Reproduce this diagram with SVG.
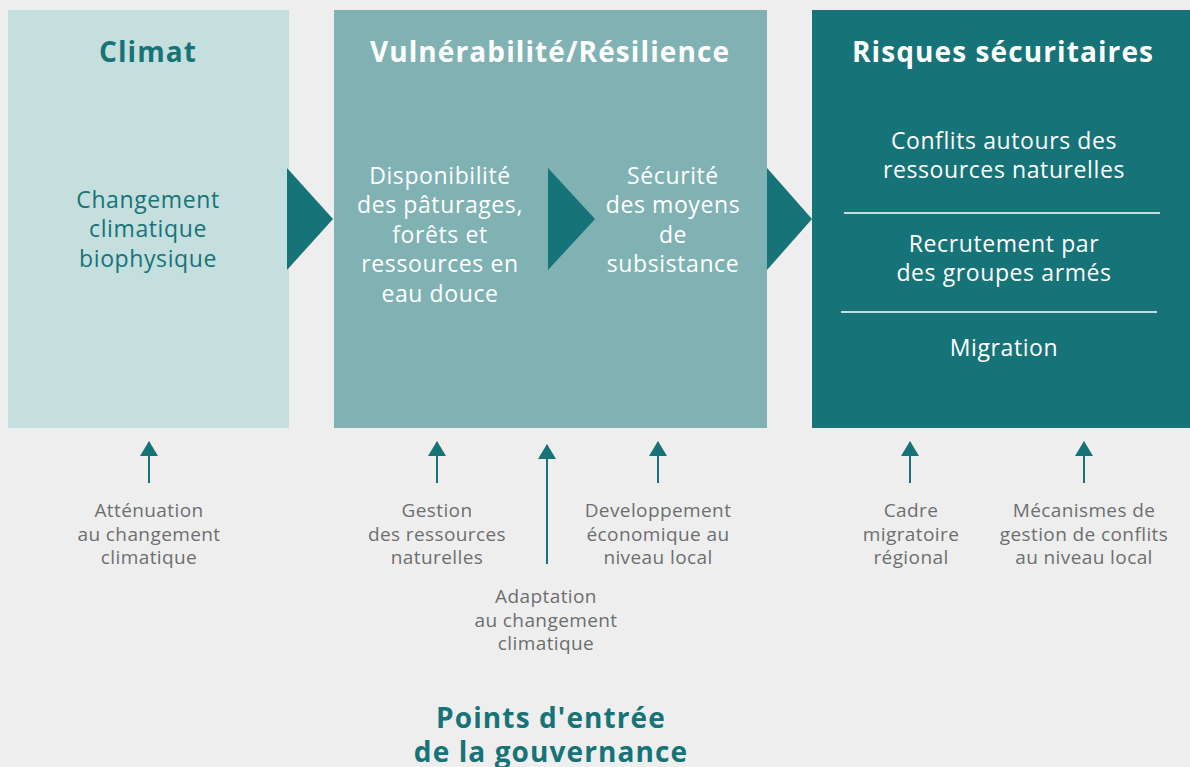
<svg xmlns="http://www.w3.org/2000/svg" width="1190" height="767" viewBox="0 0 1190 767">
<style>
.bg{fill:#eeeeee}
.t{font-family:"Open Sans","Noto Sans",sans-serif;font-weight:bold;font-size:28px;letter-spacing:1.1px;text-anchor:middle}
.b{font-family:"Open Sans","Noto Sans",sans-serif;font-size:23px;letter-spacing:0.6px;text-anchor:middle}
.s{font-family:"Open Sans","Noto Sans",sans-serif;font-size:19px;letter-spacing:0.4px;text-anchor:middle;fill:#6d6e70}
.teal{fill:#167377}
.w{fill:#ffffff}
.chev{fill:#167377}
.conn line{stroke:#167377;stroke-width:2}
.sep{stroke:#ffffff;stroke-width:1.5}
</style>
<defs>
<marker id="ah" viewBox="0 0 15 18" refX="14" refY="9" markerWidth="15" markerHeight="18" markerUnits="userSpaceOnUse" orient="auto">
<path d="M0,0 L15,9 L0,18 Z" fill="#167377"/>
</marker>
</defs>
<rect class="bg" x="0" y="0" width="1190" height="767"/>
<g id="climat">
<rect x="8" y="10" width="281" height="418" fill="#c5dfdf"/>
<text class="t teal" x="148" y="62">Climat</text>
<text class="b teal" x="148" y="208">Changement</text>
<text class="b teal" x="148" y="237">climatique</text>
<text class="b teal" x="148" y="267">biophysique</text>
</g>
<g id="vulnerabilite">
<rect x="334" y="10" width="433" height="418" fill="#80b2b4"/>
<text class="t w" x="550" y="62">Vulnérabilité/Résilience</text>
<text class="b w" x="440" y="184">Disponibilité</text>
<text class="b w" x="440" y="213">des pâturages,</text>
<text class="b w" x="440" y="243">forêts et</text>
<text class="b w" x="440" y="272">ressources en</text>
<text class="b w" x="440" y="302">eau douce</text>
<text class="b w" x="673" y="184">Sécurité</text>
<text class="b w" x="673" y="213">des moyens</text>
<text class="b w" x="673" y="243">de</text>
<text class="b w" x="673" y="272">subsistance</text>
</g>
<g id="risques">
<rect x="812" y="10" width="378" height="418" fill="#167377"/>
<text class="t w" x="1003" y="62">Risques sécuritaires</text>
<text class="b w" x="1004" y="149">Conflits autours des</text>
<text class="b w" x="1004" y="178">ressources naturelles</text>
<line class="sep" x1="844" y1="213" x2="1160" y2="213"/>
<text class="b w" x="1004" y="252">Recrutement par</text>
<text class="b w" x="1004" y="281">des groupes armés</text>
<line class="sep" x1="841" y1="312" x2="1157" y2="312"/>
<text class="b w" x="1004" y="356">Migration</text>
</g>
<g id="chevrons">
<polygon class="chev" points="287,168 333,219 287,270"/>
<polygon class="chev" points="548,168 595,219 548,270"/>
<polygon class="chev" points="767,168 812,219 767,270"/>
</g>
<g id="connectors" class="conn">
<line x1="149" y1="483" x2="149" y2="442" marker-end="url(#ah)"/>
<line x1="437" y1="483" x2="437" y2="442" marker-end="url(#ah)"/>
<line x1="547" y1="564" x2="547" y2="445" marker-end="url(#ah)"/>
<line x1="658" y1="483" x2="658" y2="442" marker-end="url(#ah)"/>
<line x1="910" y1="483" x2="910" y2="442" marker-end="url(#ah)"/>
<line x1="1084" y1="483" x2="1084" y2="442" marker-end="url(#ah)"/>
</g>
<g id="label-attenuation">
<text class="s" x="149" y="517">Atténuation</text>
<text class="s" x="149" y="541">au changement</text>
<text class="s" x="149" y="564">climatique</text>
</g>
<g id="label-gestion">
<text class="s" x="437" y="517">Gestion</text>
<text class="s" x="437" y="541">des ressources</text>
<text class="s" x="437" y="564">naturelles</text>
</g>
<g id="label-adaptation">
<text class="s" x="546" y="603">Adaptation</text>
<text class="s" x="546" y="627">au changement</text>
<text class="s" x="546" y="650">climatique</text>
</g>
<g id="label-developpement">
<text class="s" x="658" y="517">Developpement</text>
<text class="s" x="658" y="541">économique au</text>
<text class="s" x="658" y="564">niveau local</text>
</g>
<g id="label-cadre">
<text class="s" x="911" y="517">Cadre</text>
<text class="s" x="911" y="541">migratoire</text>
<text class="s" x="911" y="564">régional</text>
</g>
<g id="label-mecanismes">
<text class="s" x="1084" y="517">Mécanismes de</text>
<text class="s" x="1084" y="541">gestion de conflits</text>
<text class="s" x="1084" y="564">au niveau local</text>
</g>
<g id="title-points">
<text class="t teal" x="551" y="728">Points d'entrée</text>
<text class="t teal" x="551" y="762">de la gouvernance</text>
</g>
</svg>
